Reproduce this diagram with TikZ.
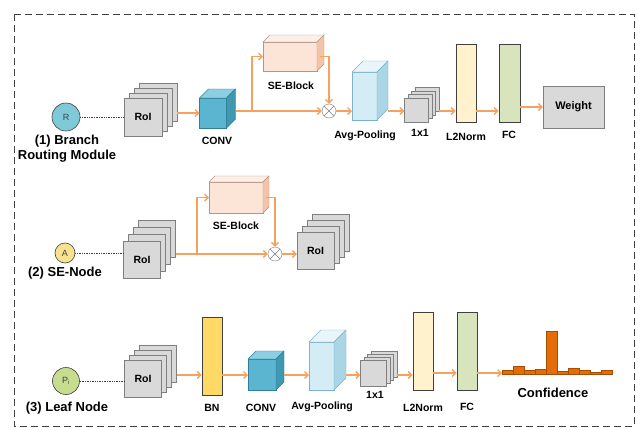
\documentclass[tikz,border=0pt]{standalone}
\usepackage{fontspec}
\setmainfont{Liberation Sans}
\usetikzlibrary{arrows.meta}
\definecolor{linkorange}{HTML}{F5A25F}
\definecolor{roigray}{HTML}{D9D9D9}
\definecolor{roiline}{HTML}{7F7F7F}
\definecolor{darkline}{HTML}{404040}
\definecolor{convfront}{HTML}{5BB5D0}
\definecolor{convside}{HTML}{3F97B2}
\definecolor{convtop}{HTML}{8ACFE2}
\definecolor{convline}{HTML}{2F7F98}
\definecolor{avgfront}{HTML}{D4ECF4}
\definecolor{avgside}{HTML}{A9D5E5}
\definecolor{avgtop}{HTML}{E8F6FA}
\definecolor{avgline}{HTML}{7DB3C8}
\definecolor{sefront}{HTML}{FCE4D6}
\definecolor{seside}{HTML}{F5C4A6}
\definecolor{setop}{HTML}{FDEFE6}
\definecolor{seline}{HTML}{B09888}
\definecolor{normfill}{HTML}{FFF2CC}
\definecolor{fcfill}{HTML}{D8E4BC}
\definecolor{bnfill}{HTML}{FFD966}
\definecolor{histfill}{HTML}{E46C0A}
\definecolor{histline}{HTML}{A64D00}
\definecolor{rfill}{HTML}{7FCAD9}
\definecolor{afill}{HTML}{F7E38F}
\definecolor{pfill}{HTML}{C6DD8F}
\begin{document}
\begin{tikzpicture}[x=1pt,y=-1pt,
  lbl/.style={font=\bfseries\fontsize{10.5}{12}\selectfont, inner sep=0pt},
  sec/.style={font=\bfseries\fontsize{13}{15}\selectfont, align=center, inner sep=0pt},
  roi/.style={draw=roiline, fill=roigray, inner sep=0pt, font=\bfseries\fontsize{10.5}{12}\selectfont},
  bar/.style={draw=darkline, line width=0.8pt, inner sep=0pt},
  gate/.style={circle, draw=darkline, line width=0.6pt, inner sep=0pt, text=darkline, font=\fontsize{9}{10}\selectfont},
  mult/.style={circle, draw=roiline, fill=white, minimum size=14pt, inner sep=0pt},
  flow/.style={draw=linkorange, line width=1.4pt, -{Straight Barb[length=3.5pt,width=7pt]}},
  link/.style={draw=linkorange, line width=1.4pt},
  tie/.style={densely dotted, darkline, line width=0.7pt}]
\useasboundingbox (0,0) rectangle (638,429);
\fill[white] (0,0) rectangle (638,429);
\draw[dash pattern=on 7pt off 4pt, line width=1pt, darkline] (14,14) rectangle (634,426);

% row axes
\coordinate (axA) at (0,111);
\coordinate (axB) at (0,254);
\coordinate (axC) at (0,375);

% cuboids
\foreach \nm/\cx/\cy/\w/\h/\dd/\col in {convA/213/113/27/30/9/conv, seA/290/56.5/54/29/7/se,
    avgA/364.5/96/25/48/11/avg, seB/236/197.5/54/31/6/se,
    convC/262/374.5/28/31/8/conv, avgC/321.5/366/25/48/12/avg}
  {\node[draw=\col line, fill=\col front, minimum width=\w pt, minimum height=\h pt,
         inner sep=0pt, outer sep=0pt] (\nm) at (\cx,\cy) {};
   \draw[draw=\col line, fill=\col top] (\nm.north west) -- ++(\dd,-\dd) -- ++(\w,0)
        -- (\nm.north east) -- cycle;
   \draw[draw=\col line, fill=\col side] (\nm.north east) -- ++(\dd,-\dd) -- ++(0,\h)
        -- (\nm.south east) -- cycle;
   \path (\nm.east) ++(\dd,0) coordinate (\nm-r);
  };

% stacks of maps
\foreach \nm/\cx/\cy/\s/\dx/\dy/\txt in {roiA/143/117/38/5/5/RoI, oneA/416.5/110/24/3.5/3.5/{},
    roiB/142/260/37/5/7/RoI, roiC/315.5/251/37/5/6/RoI,
    roiD/143/378.5/37/5/5/RoI, oneC/373.5/373.5/26/3.5/3/{}}
  {\foreach \k in {3,2,1}
     \node[roi, minimum size=\s pt] (\nm-\k) at (\cx+\k*\dx,\cy-\k*\dy) {};
   \node[roi, minimum size=\s pt] (\nm) at (\cx,\cy) {\txt};
  };

% flat layers
\foreach \nm/\cx/\cy/\w/\col in {l2A/466/83/20/normfill, fcA/509.5/83/21/fcfill,
    bnC/212/356/20/bnfill, l2C/423/351/20/normfill, fcC/467/351/20/fcfill}
  \node[bar, fill=\col, minimum width=\w pt, minimum height=78pt] (\nm) at (\cx,\cy) {};

\node[draw=roiline, fill=roigray, minimum width=61pt, minimum height=42pt,
      font=\bfseries\fontsize{11}{13}\selectfont] (weight) at (573.5,107) {Weight};

% module nodes
\node[gate, fill=rfill, minimum size=28pt] (circA) at (66,117) {R};
\node[gate, fill=afill, minimum size=20pt] (circB) at (65,253) {A};
\node[gate, fill=pfill, minimum size=27pt] (circC) at (66,381) {P\textsubscript{i}};
\node[sec] (tBranch) at (67,148.5) {(1) Branch\\Routing Module};
\node[sec] (tSeNode) at (65,273) {(2) SE-Node};
\node[sec] (tLeaf) at (67,408) {(3) Leaf Node};

\node[mult] (mulA) at (329,111) {};
\node[mult] (mulB) at (275,254) {};
\foreach \m in {mulA,mulB}
  {\draw[roiline] (\m.north west) -- (\m.south east);
   \draw[roiline] (\m.north east) -- (\m.south west);};

% histogram
\coordinate (hist) at (502,373);
\foreach \i/\hh in {0/4,1/8,2/3.5,3/5,4/43,5/2.5,6/5.5,7/3.5,8/1.5,9/3.5}
  \draw[fill=histfill, draw=histline, line width=0.5pt] (502+\i*11,374) rectangle ++(11,-\hh);

% labels
\foreach \nm/\cx/\cy/\txt in {tConvA/217/141/CONV, tSeA/291/86/SE-Block, tAvgA/365/136/Avg-Pooling,
    tOneA/420/133/1x1, tL2A/466/137/L2Norm, tFcA/509/135/FC,
    tSeB/236/226/SE-Block,
    tBnC/212/408/BN, tConvC/261/408/CONV, tAvgC/322/407/Avg-Pooling, tOneC/375/395/1x1,
    tL2C/423/408/L2Norm, tFcC/467/407/FC}
  \node[lbl] (\nm) at (\cx,\cy) {\txt};
\node[font=\bfseries\fontsize{13}{15}\selectfont, inner sep=0pt] (tConf) at (553,393) {Confidence};

% (1) branch routing module
\draw[tie] (circA) -- (roiA.west |- circA);
\draw[flow] (roiA-3.east |- convA) -- (convA);
\coordinate (brA) at (252,111);
\draw[flow] (convA-r |- axA) -- (mulA);
\draw[flow] (brA) |- (seA);
\draw[flow] ([xshift=3pt]seA.east) -| (mulA);
\draw[flow] (mulA) -- (avgA.west |- axA);
\draw[flow] (avgA-r |- axA) -- (oneA.west |- axA);
\draw[flow] (oneA-3.east |- axA) -- (l2A.west |- axA);
\draw[flow] (l2A.east |- axA) -- (fcA.west |- axA);
\draw[flow] (fcA.east |- weight) -- (weight);

% (2) se-node
\draw[tie] (circB) -- (roiB.west |- circB);
\coordinate (brB) at (197,254);
\draw[flow] (roiB-3.east |- axB) -- (mulB);
\draw[flow] (brB) |- (seB);
\draw[flow] ([xshift=3pt]seB.east) -| (mulB);
\draw[flow] (mulB) -- (roiC.west |- axB);

% (3) leaf node
\draw[tie] (circC) -- (roiD.west |- circC);
\draw[flow] (roiD-3.east |- axC) -- (bnC.west |- axC);
\draw[flow] (bnC.east |- axC) -- (convC.west |- axC);
\draw[flow] (convC-r |- axC) -- (avgC.west |- axC);
\draw[flow] (avgC-r |- axC) -- (oneC.west |- axC);
\draw[flow] (oneC-3.east |- axC) -- (l2C.west |- axC);
\draw[flow] (l2C.east |- hist) -- (fcC.west |- hist);
\draw[flow] (fcC.east |- hist) -- (hist);
\end{tikzpicture}
\end{document}
